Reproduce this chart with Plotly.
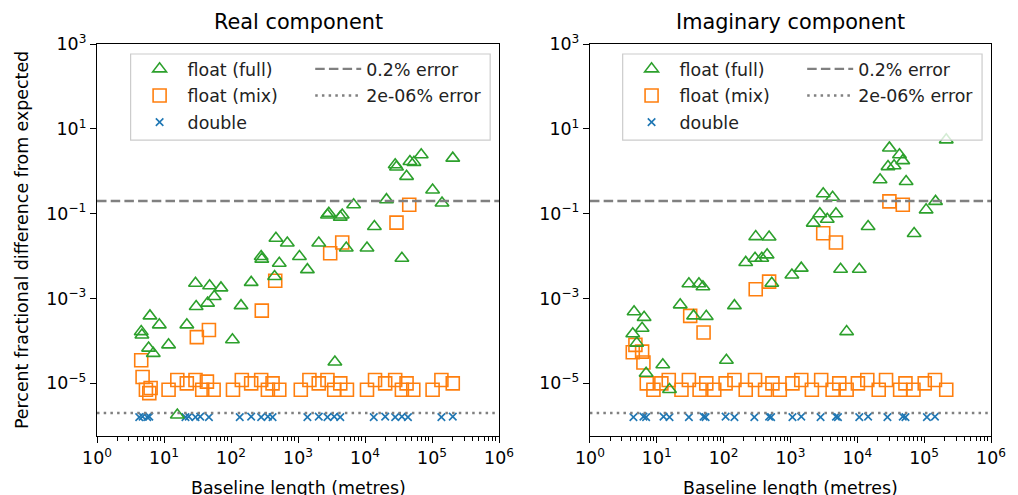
import plotly.graph_objects as go

# ---------------- data ----------------
# Real component
real_full_x = [6.9e4, 2.04e5, 2.82e4, 2.95e4, 4.68e4, 5.37e4, 4.17e4, 1.02e5, 2.09e4, 1.41e5,
               6.76e3, 2.88e3, 2.75e3, 4.57e3, 4.27e3, 1.38e4, 468, 692, 2.04e3, 5.25e3,
               1.07e4, 282, 288, 1.05e3, 525, 3.55e4, 1.38e3, 29.5, 47.9, 70.8,
               200, 447, 56.2, 44.7, 30.2, 141, 6.17, 8.51, 4.57, 4.68,
               21.9, 11.7, 105, 5.89, 6.92, 3.55e3, 15.8]
real_full_y = [2.45, 2.04, 1.42, 1.26, 1.70, 1.62, 0.76, 0.363, 0.214, 0.178,
               0.162, 0.102, 0.093, 0.093, 0.083, 0.050, 0.0263, 0.0204, 0.0204, 0.0155,
               0.0155, 0.0098, 0.0085, 0.0098, 0.0068, 0.0089, 0.0048, 0.00229, 0.0020, 0.00178,
               0.0024, 0.0033, 0.00112, 7.8e-4, 6.5e-4, 6.8e-4, 3.9e-4, 2.4e-4, 1.66e-4, 1.38e-4,
               2.4e-4, 8.1e-5, 1.07e-4, 6.8e-5, 5.1e-5, 3.2e-5, 1.8e-6]

real_mix_x = [4.57e4, 2.95e4, 4.57e3, 3.02e3, 457, 288, 46.8, 30.9, 4.57, 4.79,
              5.37, 6.03, 6.31, 11.7, 15.8, 21.9, 29.5, 37.2, 43.7, 55.0,
              107, 145, 200, 282, 355, 417, 525, 1.10e3, 1.48e3, 2.04e3,
              2.75e3, 3.47e3, 4.27e3, 5.37e3, 1.07e4, 1.41e4, 2.0e4, 2.82e4, 3.55e4, 4.17e4,
              5.25e4, 1.02e5, 1.38e5, 2.04e5]
real_mix_y = [0.162, 0.0617, 0.0209, 0.0117, 0.00263, 5.2e-4, 1.82e-4, 1.23e-4, 3.5e-5, 1.41e-5,
              7.1e-6, 5.9e-6, 7.8e-6, 7.1e-6, 1.2e-5, 1.0e-5, 1.2e-5, 7.1e-6, 1.1e-5, 7.1e-6,
              7.1e-6, 1.2e-5, 1.0e-5, 1.2e-5, 7.1e-6, 1.0e-5, 7.1e-6, 7.1e-6, 1.2e-5, 1.0e-5,
              1.2e-5, 7.1e-6, 1.0e-5, 7.1e-6, 7.1e-6, 1.2e-5, 1.0e-5, 1.2e-5, 7.1e-6, 1.0e-5,
              7.1e-6, 7.1e-6, 1.2e-5, 1.0e-5]

real_double_x = [4.27, 4.79, 5.62, 6.03, 20.9, 23.4, 29.5, 34.7, 46.8, 135,
                 200, 282, 355, 417, 1380, 2040, 2750, 3470, 4270, 1.35e4,
                 2.0e4, 2.82e4, 3.55e4, 4.37e4, 1.38e5, 2.04e5]
real_double_y = [1.6e-6, 1.65e-6, 1.6e-6, 1.65e-6, 1.6e-6, 1.65e-6, 1.6e-6, 1.65e-6, 1.6e-6, 1.6e-6,
                 1.65e-6, 1.6e-6, 1.65e-6, 1.6e-6, 1.6e-6, 1.65e-6, 1.6e-6, 1.65e-6, 1.6e-6, 1.6e-6,
                 1.65e-6, 1.6e-6, 1.65e-6, 1.6e-6, 1.6e-6, 1.65e-6]

# Imaginary component
imag_full_x = [2.14e5, 3.02e4, 4.27e4, 4.79e4, 2.88e4, 3.55e4, 2.19e4, 5.37e4, 3.09e3, 4.27e3,
               1.48e5, 1.07e5, 2.75e3, 4.79e3, 3.55e3, 2.19e3, 1.45e4, 7.08e4, 302, 479,
               447, 295, 372, 214, 1.45e3, 1.05e3, 5.62e3, 1.07e4, 30.2, 42.7,
               49.0, 525, 22.4, 145, 4.57, 6.46, 35.5, 55.0, 6.03, 4.37,
               6.92e3, 5.01, 110, 12.3, 6.92, 15.5]
imag_full_y = [5.5, 3.55, 2.45, 1.78, 1.29, 1.35, 0.63, 0.575, 0.295, 0.245,
               0.195, 0.123, 0.100, 0.100, 0.074, 0.060, 0.050, 0.034, 0.0288, 0.0282,
               0.0107, 0.0089, 0.0089, 0.0071, 0.0052, 0.0036, 0.0049, 0.0049, 0.00224, 0.00224,
               0.0019, 0.00229, 7.1e-4, 6.8e-4, 4.9e-4, 3.6e-4, 3.9e-4, 3.8e-4, 2.0e-4, 1.48e-4,
               1.66e-4, 8.9e-5, 3.5e-5, 2.75e-5, 1.74e-5, 7.2e-6]

imag_mix_x = [3.02e4, 4.79e4, 3.09e3, 4.79e3, 479, 302, 31.6, 50.1, 4.79, 4.37,
              6.03, 6.31, 7.08, 8.91, 11.7, 15.1, 23.4, 30.2, 43.7, 55.0,
              72.4, 107, 145, 214, 295, 417, 537, 692, 1.07e3, 1.45e3,
              2.09e3, 2.88e3, 4.27e3, 5.37e3, 6.92e3, 1.02e4, 1.41e4, 2.09e4, 2.69e4, 4.37e4,
              5.25e4, 6.92e4, 1.02e5, 1.45e5, 2.14e5]
imag_mix_y = [0.195, 0.162, 0.0347, 0.0209, 0.0025, 0.00166, 3.9e-4, 1.58e-4, 8.1e-5, 5.4e-5,
              5.6e-5, 3.1e-5, 1.0e-5, 7.1e-6, 1.0e-5, 1.2e-5, 7.1e-6, 1.2e-5, 7.1e-6, 1.0e-5,
              7.1e-6, 1.0e-5, 1.2e-5, 7.1e-6, 1.2e-5, 7.1e-6, 1.0e-5, 7.1e-6, 1.0e-5, 1.2e-5,
              7.1e-6, 1.2e-5, 7.1e-6, 1.0e-5, 7.1e-6, 1.0e-5, 1.2e-5, 7.1e-6, 1.2e-5, 7.1e-6,
              1.0e-5, 7.1e-6, 1.0e-5, 1.2e-5, 7.1e-6]

imag_double_x = [4.47, 6.31, 6.92, 12.6, 15.5, 30.2, 50.1, 53.7, 107, 145,
                 288, 479, 513, 1070, 1450, 2820, 4790, 5130, 1.07e4, 1.45e4,
                 2.82e4, 4.79e4, 5.25e4, 1.10e5, 1.45e5]
imag_double_y = [1.6e-6, 1.65e-6, 1.6e-6, 1.65e-6, 1.6e-6, 1.6e-6, 1.65e-6, 1.6e-6, 1.65e-6, 1.6e-6,
                 1.6e-6, 1.65e-6, 1.6e-6, 1.6e-6, 1.65e-6, 1.6e-6, 1.65e-6, 1.6e-6, 1.6e-6, 1.65e-6,
                 1.6e-6, 1.65e-6, 1.6e-6, 1.6e-6, 1.65e-6]

error_levels = [0.2, 2e-6]
error_labels = ["0.2% error", "2e-06% error"]
x_limits = [1, 1e6]

panel_titles = ["Real component", "Imaginary component"]
x_title = "Baseline length (metres)"
y_title = "Percent fractional difference from expected"
x_tick_vals = [1, 10, 100, 1e3, 1e4, 1e5, 1e6]
x_tick_text = ["10<sup>0</sup>", "10<sup>1</sup>", "10<sup>2</sup>", "10<sup>3</sup>",
               "10<sup>4</sup>", "10<sup>5</sup>", "10<sup>6</sup>"]
y_tick_vals = [1e3, 1e1, 1e-1, 1e-3, 1e-5]
y_tick_text = ["10<sup>3</sup>", "10<sup>1</sup>", "10<sup>\u22121</sup>",
               "10<sup>\u22123</sup>", "10<sup>\u22125</sup>"]

# ---------------- styling ----------------
FONT = "DejaVu Sans"
FS = 17.4
GREEN, ORANGE, BLUE, GREY = "#2ca02c", "#ff7f0e", "#1f77b4", "#808080"

fig = go.Figure()

panels = [
    (real_full_x, real_full_y, real_mix_x, real_mix_y, real_double_x, real_double_y, "x", "y", "legend", "legend2", "r"),
    (imag_full_x, imag_full_y, imag_mix_x, imag_mix_y, imag_double_x, imag_double_y, "x2", "y2", "legend3", "legend4", "i"),
]

for (fx, fy, mx, my, dx, dy, xa, ya, lg1, lg2, tag) in panels:
    fig.add_trace(go.Scatter(x=dx, y=dy, mode="markers", name="double", xaxis=xa, yaxis=ya,
                             legend=lg1, legendrank=3, legendgroup=tag + "d",
                             marker=dict(symbol="x-thin-open", size=7.5, color=BLUE,
                                         line=dict(color=BLUE, width=1.6))))
    fig.add_trace(go.Scatter(x=mx, y=my, mode="markers", name="float (mix)", xaxis=xa, yaxis=ya,
                             legend=lg1, legendrank=2, legendgroup=tag + "m",
                             marker=dict(symbol="square-open", size=13, color=ORANGE, line=dict(width=1.6))))
    fig.add_trace(go.Scatter(x=fx, y=fy, mode="markers", name="float (full)", xaxis=xa, yaxis=ya,
                             legend=lg1, legendrank=1, legendgroup=tag + "f",
                             marker=dict(symbol="triangle-up-open", size=12, color=GREEN, line=dict(width=1.6))))
    fig.add_trace(go.Scatter(x=x_limits, y=[error_levels[0]] * 2, mode="lines", name=error_labels[0],
                             xaxis=xa, yaxis=ya, legend=lg2, legendrank=1, legendgroup=tag + "e1",
                             line=dict(color=GREY, width=2.4, dash="9.5px,4.2px")))
    fig.add_trace(go.Scatter(x=x_limits, y=[error_levels[1]] * 2, mode="lines", name=error_labels[1],
                             xaxis=xa, yaxis=ya, legend=lg2, legendrank=2, legendgroup=tag + "e2",
                             line=dict(color=GREY, width=2.4, dash="2.5px,4.2px")))

minor_vals = [m * 10 ** e for e in range(0, 6) for m in range(2, 10)]

axis_common = dict(type="log", showline=True, mirror=True, linecolor="black", linewidth=1.3,
                   ticks="outside", ticklen=6, tickwidth=1.3, tickcolor="black",
                   showgrid=False, zeroline=False,
                   tickfont=dict(family=FONT, size=FS, color="black"))

xaxis_common = dict(axis_common, range=[0, 6], tickvals=x_tick_vals, ticktext=x_tick_text,
                    minor=dict(tickvals=minor_vals, ticks="outside", ticklen=3.5, tickwidth=1.0,
                               tickcolor="black", showgrid=False))
yaxis_common = dict(axis_common, range=[-6.24, 3], tickvals=y_tick_vals, ticktext=y_tick_text)

d_left = [0, 0.4497]
d_right = [0.5514, 1]

legend_common = dict(bgcolor="rgba(0,0,0,0)", borderwidth=0, font=dict(family=FONT, size=FS, color="#222"),
                     xanchor="left", yanchor="top", tracegroupgap=1.0, itemwidth=46,
                     traceorder="grouped")

fig.update_layout(
    width=1018, height=495,
    margin=dict(l=97, r=16, t=44, b=59),
    paper_bgcolor="white", plot_bgcolor="white",
    font=dict(family=FONT, size=FS, color="black"),
    xaxis=dict(xaxis_common, domain=d_left, anchor="y"),
    yaxis=dict(yaxis_common, anchor="x"),
    xaxis2=dict(xaxis_common, domain=d_right, anchor="y2"),
    yaxis2=dict(yaxis_common, anchor="x2"),
    legend=dict(legend_common, x=0.0387, y=0.982),
    legend2=dict(legend_common, x=0.2385, y=0.982),
    legend3=dict(legend_common, x=0.5890, y=0.982),
    legend4=dict(legend_common, x=0.7888, y=0.982),
    showlegend=True,
)

# legend frames
for x0, x1 in [(0.0376, 0.4398), (0.588, 0.990)]:
    fig.add_shape(type="rect", xref="paper", yref="paper", x0=x0, x1=x1, y0=0.755, y1=0.9745,
                  line=dict(color="#cccccc", width=1.2), fillcolor="rgba(255,255,255,0.8)", layer="above")

# titles
for title, dom in zip(panel_titles, [d_left, d_right]):
    cx = (dom[0] + dom[1]) / 2
    fig.add_annotation(text=title, x=cx, y=1, xref="paper", yref="paper", yshift=22,
                       showarrow=False, xanchor="center", yanchor="middle",
                       font=dict(family=FONT, size=20.8, color="black"))
    fig.add_annotation(text=x_title, x=cx, y=0, xref="paper", yref="paper", yshift=-52,
                       showarrow=False, xanchor="center", yanchor="middle",
                       font=dict(family=FONT, size=FS, color="black"))

fig.add_annotation(text=y_title, x=0, y=0.5, xref="paper", yref="paper", xshift=-75,
                   showarrow=False, textangle=-90, xanchor="center", yanchor="middle",
                   font=dict(family=FONT, size=FS, color="black"))

fig.write_html("out.html", config={"displayModeBar": False},
               post_script="document.body.style.margin='0';")
